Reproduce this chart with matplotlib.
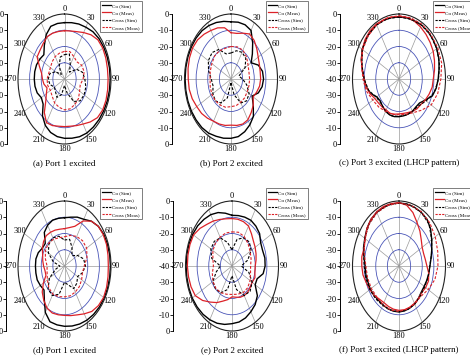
import numpy as np
import matplotlib
matplotlib.use("Agg")
import matplotlib.pyplot as plt
from matplotlib.lines import Line2D

plt.rcParams['font.family'] = ['Liberation Serif', 'DejaVu Serif']

# ---------------- data (dB, angle clockwise from 0 = top) ----------------
ang_co = list(range(0, 360, 10))      # 36 samples for co-pol traces
ang_cx = list(range(0, 360, 15))      # 24 samples for cross-pol traces
tick_angles = list(range(0, 360, 30))
tick_labels = ['0', '30', '60', '90', '120', '150', '180', '210', '240', '', '300', '330']
scale_labels = ['0', '-10', '-20', '-30', '-40', '-30', '-20', '-10', '0']
series_names = ['Co (Sim)', 'Co (Meas)', 'Cross (Sim)', 'Cross (Meas)']
captions = ['(a) Port 1 excited', '(b) Port 2 excited', '(c) Port 3 excited (LHCP pattern)',
            '(d) Port 1 excited', '(e) Port 2 excited', '(f) Port 3 excited (LHCP pattern)']

a_co_sim = [-5.3, -4.8, -4, -3.2, -2, -1.3, -1, -0.8, -0.7, -0.7, -0.7, -0.8, -1, -1.2, -1.4, -1.6, -2.2, -3,
            -3.5, -4, -5, -7, -10.5, -16, -17, -15, -14.2, -14, -14, -14.4, -15.5, -16.8, -13, -8.5, -5.5, -5.3]
a_co_meas = [-10.3, -10, -9, -7, -4.5, -2.5, -2, -2.2, -2.5, -2.5, -2.3, -2, -2, -3, -5.5, -8, -9.5, -10.5,
             -10.7, -10.5, -9.5, -9, -13, -19, -22, -24, -22, -21, -20, -17, -12.8, -12.5, -11.5, -10, -10, -10.3]
a_cx_sim = [-25, -24, -30, -34, -28, -24, -22.5, -21, -20.5, -21, -24, -31,
            -36, -30, -27, -29, -30, -27, -26, -27, -31, -36, -31, -26]
a_cx_meas = [-23, -22.5, -24, -25, -23, -22.5, -24, -26, -25, -23, -22, -21,
             -21, -22, -23, -25, -26, -25, -25, -26, -26, -25, -24, -23.5]

b_co_sim = [-4.8, -4.5, -4.5, -5.5, -11, -16, -20, -15, -12.5, -12, -12.8, -15, -19, -15, -10, -7.5, -5.5, -4,
            -3.5, -3, -2.5, -1.5, -1, -0.8, -0.6, -0.5, -0.5, -0.5, -0.5, -0.5, -0.6, -0.8, -1.2, -2, -3, -4]
b_co_meas = [-11.5, -11.5, -10, -8, -9, -11, -13, -14, -14.5, -14.5, -15, -16.5, -18, -15, -13, -11, -10.5, -11,
             -11.6, -11, -10.5, -10, -8.5, -7, -6, -4.5, -3.5, -3.2, -2.5, -2, -1.8, -2.5, -4, -5.5, -6.5, -8]
b_cx_sim = [-24, -22, -21, -22, -26, -33, -30, -26, -22, -21, -23, -30,
            -38, -28, -23, -21, -22, -24, -23, -20, -17.5, -17, -19, -24]
b_cx_meas = [-20, -19.5, -19.5, -21, -23, -24, -24, -24, -24, -23.5, -23.5, -23,
             -23, -22, -21.5, -21, -21, -21.5, -22, -21.5, -21, -20, -20, -20.5]

c_co_sim = [-1.8, -1.8, -1.8, -1.5, -1.5, -2, -2.5, -3.5, -5, -6.3, -7.5, -9.5, -14, -17, -17.5, -17, -17, -17,
            -16.8, -16.5, -16.5, -17, -18, -19, -18, -14, -11.5, -10, -8, -5.5, -3.5, -2.5, -1.8, -1.5, -1.5, -1.7]
c_co_meas = [-1.5, -1.5, -2, -3, -4, -5, -6, -7.5, -9, -10.5, -11, -12.5, -14, -15.5, -16, -17, -18, -18.5,
             -18.5, -18, -17.5, -18, -17.5, -17, -16, -13.5, -11.5, -10, -8, -5.5, -3.5, -2, -1.2, -1, -1.2, -1.3]
c_cx_sim = [-1.8, -1.8, -1.6, -1.8, -2.5, -4, -6, -8.5, -13, -16.5, -17, -17,
            -17, -16.5, -17, -18.5, -17.5, -13, -10, -7, -3.5, -2.2, -1.5, -1.6]
c_cx_meas = [-1, -1, -1, -1.2, -1.5, -2, -4, -5.5, -8, -12.8, -16, -17.5,
             -18, -17.5, -17, -15.5, -14, -11, -9, -6.5, -4, -2.5, -1.5, -1]

d_co_sim = [-10.3, -9.5, -8, -6.8, -4, -2, -1, -0.7, -0.5, -0.5, -0.5, -0.5, -0.6, -0.8, -1.1, -1.5, -2, -2.5,
            -2.9, -3.2, -3.5, -7, -13, -17, -16, -15, -15, -15, -15, -16, -18, -18.4, -13, -11, -10, -10.2]
d_co_meas = [-17, -16, -14, -8, -4, -2, -1.5, -1.5, -2, -2.3, -2, -1.5, -1.2, -2, -3.5, -6, -8, -9,
             -9.6, -9.5, -9.2, -10, -12.3, -15, -19, -23, -23, -22, -21, -20, -18, -16.5, -15.6, -16, -16.5, -17]
d_cx_sim = [-24, -23, -27, -31, -27, -23, -22, -24, -27, -25, -24, -28,
            -30, -22, -19, -20, -25, -32, -36, -30, -24, -21, -20, -21]
d_cx_meas = [-22, -20.5, -19, -18, -18, -20, -23, -24, -23, -22, -21.5, -21,
             -21, -20.5, -20, -21, -23, -24.5, -25, -23, -21, -20.4, -21, -22]

e_co_sim = [-8.8, -8.5, -8, -7.5, -8, -9, -11.5, -12, -11.3, -11.5, -12.8, -17, -17, -11.5, -9, -7.5, -6, -5,
            -4.5, -3.5, -2.5, -1.8, -1.2, -0.8, -0.5, -0.5, -0.5, -0.5, -0.5, -0.6, -1, -1.5, -2.5, -3.5, -5, -7]
e_co_meas = [-10.8, -10.8, -11, -11.6, -14, -16, -17, -18, -19, -20, -20, -19, -20, -19.5, -19, -19, -19.5, -20.5,
             -21, -19, -17, -14, -11, -7, -3.5, -2.5, -2, -1.6, -1.5, -1.5, -1.8, -4, -6.5, -8, -9.5, -10.5]
e_cx_sim = [-30, -23, -20, -19, -21, -26, -32, -25, -20, -18, -19, -25,
            -34, -25, -21, -20, -21, -26, -30, -22, -19, -18.5, -20, -25]
e_cx_meas = [-19, -18.5, -19, -20.5, -22, -23, -24, -23.5, -22, -21, -21, -22,
             -22.5, -22, -21, -20.5, -21, -22.5, -24, -23, -21, -20, -19.5, -19]

f_co_sim = [-1.2, -1.2, -1.5, -1.8, -2.5, -4.5, -7.5, -10, -12, -13.4, -14, -14.5, -15, -15, -14, -13, -12.5, -12,
            -11.7, -11.8, -12, -12.4, -12.5, -12, -11.5, -11.5, -11, -10.9, -9.5, -7.5, -6, -4, -2.5, -1.8, -1.5, -1.3]
f_co_meas = [-1, -2, -5, -9, -12, -15, -17, -17.5, -17, -16, -14, -13, -13.5, -14.5, -14, -13.5, -13, -12.7,
             -12.7, -13, -13.5, -14, -13.5, -12, -11, -10, -8.5, -8, -7.5, -8, -6.5, -4, -2.5, -1.5, -1, -1]
f_cx_sim = [-1.2, -1.4, -1.8, -3.5, -7.5, -11, -13.5, -14, -14.5, -14, -13, -12,
            -11.8, -12, -12, -11.5, -11, -10.5, -10, -8.5, -6, -3.5, -2, -1.4]
f_cx_meas = [-1.2, -1.2, -1.5, -2.5, -4, -5.5, -6.5, -8, -11, -13.5, -13, -12.5,
             -12, -12, -12.5, -13, -12.5, -12, -11.5, -9, -6, -3.5, -2, -1.5]

panels = [
    (a_co_sim, a_co_meas, a_cx_sim, a_cx_meas),
    (b_co_sim, b_co_meas, b_cx_sim, b_cx_meas),
    (c_co_sim, c_co_meas, c_cx_sim, c_cx_meas),
    (d_co_sim, d_co_meas, d_cx_sim, d_cx_meas),
    (e_co_sim, e_co_meas, e_cx_sim, e_cx_meas),
    (f_co_sim, f_co_meas, f_cx_sim, f_cx_meas),
]

# ---------------- layout (pixels in a 470 x 358 canvas) ----------------
W, H = 470, 358
centers = [(64.5, 79), (231, 79), (399, 79), (64.5, 266), (232, 266), (399, 266)]
scale_x = [7, 172, 340, 6, 173, 340]
legend_pos = [(100, 1), (266, 1), (433, 1), (100, 188), (266, 188), (433, 188)]
caption_y = [163, 163, 163, 350, 350, 350]
RX, RY = 46.5, 65

RED = '#dc2228'
BLUE = '#4a55b8'

fig = plt.figure(figsize=(W / 100, H / 100), dpi=100)
fig.patch.set_facecolor('white')


def close(a, v):
    a = np.deg2rad(list(a) + [a[0]])
    return a, list(v) + [v[0]]


for i, (cx, cy) in enumerate(centers):
    ax = fig.add_axes([(cx - RX) / W, 1 - (cy + RY) / H, 2 * RX / W, 2 * RY / H],
                      projection='polar')
    ax.set_aspect('auto')
    ax.set_theta_zero_location('N')
    ax.set_theta_direction(-1)
    ax.set_ylim(-40, 0)
    ax.set_rgrids([-30, -20, -10], labels=['', '', ''])
    ax.set_thetagrids(tick_angles, labels=tick_labels)
    ax.tick_params(axis='x', length=0, pad=-3.2, labelsize=6)
    ax.tick_params(axis='y', length=0)
    ax.xaxis.grid(True, color='#9a9a9a', lw=0.5)
    ax.yaxis.grid(True, color=BLUE, lw=0.6)
    ax.spines['polar'].set_color('#222222')
    ax.spines['polar'].set_linewidth(0.8)
    ax.set_facecolor('none')

    co_sim, co_meas, cx_sim, cx_meas = panels[i]
    t, v = close(ang_co, co_sim)
    ax.plot(t, v, color='black', lw=1.0)
    t, v = close(ang_co, co_meas)
    ax.plot(t, v, color=RED, lw=0.9)
    t, v = close(ang_cx, cx_sim)
    ax.plot(t, v, color='black', lw=0.8, ls=(0, (2.5, 1.5)))
    t, v = close(ang_cx, cx_meas)
    ax.plot(t, v, color=RED, lw=0.8, ls=(0, (2.5, 1.5)))

    # 270 label placed just left of the ellipse (next to the -40 scale label)
    ax.text(np.deg2rad(270), 0.8, '270', transform=ax.transData, fontsize=6,
            ha='right', va='center')

    # left dB scale
    sax = fig.add_axes([scale_x[i] / W, 1 - (cy + RY) / H, 0.0005, 2 * RY / H])
    sax.set_ylim(-1, 1)
    sax.set_xlim(0, 1)
    for s in ['top', 'right', 'bottom']:
        sax.spines[s].set_visible(False)
    sax.spines['left'].set_linewidth(0.7)
    sax.set_xticks([])
    sax.set_yticks([1, 0.75, 0.5, 0.25, 0, -0.25, -0.5, -0.75, -1])
    sax.set_yticklabels(scale_labels)
    sax.tick_params(axis='y', length=2, width=0.6, pad=0.5, labelsize=6)
    sax.patch.set_visible(False)

    # legend
    handles = [Line2D([], [], color='black', lw=0.9),
               Line2D([], [], color=RED, lw=0.9),
               Line2D([], [], color='black', lw=0.8, ls=(0, (2, 1))),
               Line2D([], [], color=RED, lw=0.8, ls=(0, (2, 1)))]
    lx, ly = legend_pos[i]
    leg = fig.legend(handles, series_names, loc='upper left',
                     bbox_to_anchor=(lx / W, 1 - ly / H), fontsize=3.7,
                     frameon=True, fancybox=False, handlelength=1.7,
                     handletextpad=0.3, borderpad=0.4, labelspacing=0.55,
                     borderaxespad=0)
    leg.get_frame().set_edgecolor('#444444')
    leg.get_frame().set_linewidth(0.6)

    fig.text(cx / W, 1 - caption_y[i] / H, captions[i], fontsize=6.5,
             ha='center', va='center')

fig.savefig('out.png', dpi=100, facecolor='white')
